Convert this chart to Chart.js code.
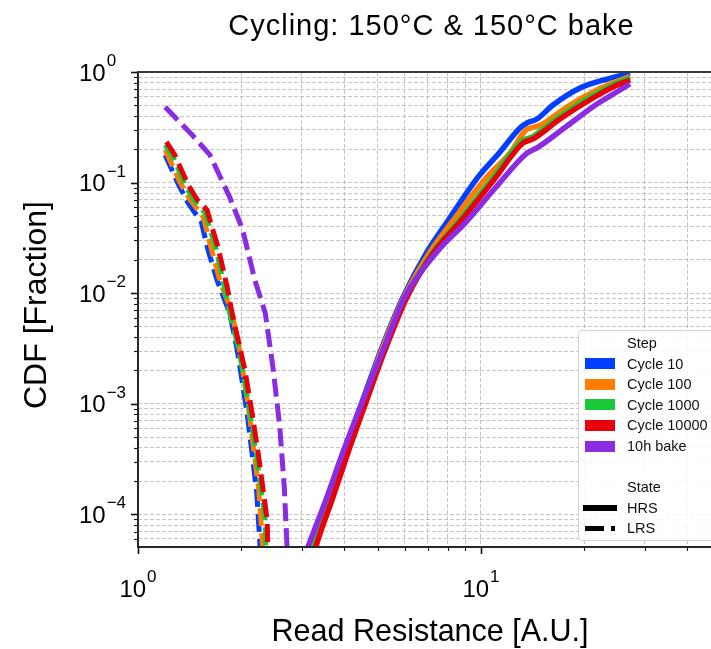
<!DOCTYPE html>
<html>
<head>
<meta charset="utf-8">
<title>Cycling CDF</title>
<script src="https://cdn.jsdelivr.net/npm/chart.js@4.4.1/dist/chart.umd.min.js"></script>
<style>
  html, body { margin: 0; padding: 0; background: #fff; }
  #wrap { position: relative; width: 711px; height: 649px; overflow: hidden; }
  #cdfChart { display: block; }
  .legend {
    position: absolute; left: 578px; top: 330px; width: 170px; height: 211px;
    box-sizing: border-box; border: 1px solid #d4d4d4; border-radius: 4px;
    background: rgba(255,255,255,0.85);
    font-family: 'Liberation Sans', Arial, sans-serif; font-size: 14.5px; color: #111;
  }
  .legend .lbl { position: absolute; left: 48px; line-height: 20px; height: 20px; white-space: nowrap; }
  .legend .patch { position: absolute; left: 6px; width: 30px; height: 11px; }
  .legend .bar { position: absolute; background: #000; }
</style>
</head>
<body>
<div id="wrap">
  <canvas id="cdfChart" width="711" height="649"></canvas>
  <div class="legend" id="legend"></div>
</div>
<script>
/* ─── Data ───────────────────────────────────────────────────── */
const steps  = ['Cycle 10', 'Cycle 100', 'Cycle 1000', 'Cycle 10000', '10h bake'];
const states = ['HRS', 'LRS'];

// HRS: read resistance [A.U.] vs CDF
const hrsR_c10      = [3.07, 3.15, 3.56, 3.99, 4.47, 5.11, 5.93, 6.96, 7.96, 9.80, 11.36, 12.99, 13.62, 14.57, 16.22, 19.44, 23.30, 27.19];
const hrsCdf_c10    = [4.0e-5, 5.07e-5, 1.35e-4, 3.66e-4, 9.75e-4, 3.06e-3, 9.24e-3, 0.0236, 0.0440, 0.112, 0.189, 0.312, 0.346, 0.376, 0.503, 0.717, 0.864, 0.975];
const hrsR_c100     = [3.09, 3.17, 3.58, 4.01, 4.50, 5.14, 5.97, 7.10, 8.23, 10.34, 12.15, 13.44, 13.99, 14.96, 17.81, 21.79, 24.59, 27.19];
const hrsCdf_c100   = [4.0e-5, 5.07e-5, 1.35e-4, 3.66e-4, 9.75e-4, 3.06e-3, 9.24e-3, 0.0236, 0.0440, 0.110, 0.185, 0.293, 0.312, 0.332, 0.483, 0.688, 0.812, 0.911];
const hrsR_c1000    = [3.19, 3.26, 3.63, 4.04, 4.53, 5.21, 6.05, 7.25, 8.57, 10.77, 13.17, 14.08, 16.88, 21.07, 24.59, 27.19];
const hrsCdf_c1000  = [4.0e-5, 5.07e-5, 1.35e-4, 3.66e-4, 9.75e-4, 3.06e-3, 9.24e-3, 0.0236, 0.0440, 0.108, 0.238, 0.258, 0.392, 0.607, 0.779, 0.883];
const hrsR_c10000   = [3.24, 3.30, 3.68, 4.10, 4.59, 5.25, 6.09, 7.30, 8.68, 10.91, 13.26, 14.18, 16.99, 21.21, 24.59, 27.19];
const hrsCdf_c10000 = [4.0e-5, 5.07e-5, 1.35e-4, 3.66e-4, 9.75e-4, 3.06e-3, 9.24e-3, 0.0236, 0.0440, 0.106, 0.228, 0.248, 0.376, 0.582, 0.747, 0.846];
const hrsR_bake     = [3.05, 3.13, 3.53, 3.96, 4.47, 5.18, 6.00, 7.44, 9.04, 11.13, 13.62, 14.57, 17.81, 21.79, 24.59, 27.19];
const hrsCdf_bake   = [4.0e-5, 5.07e-5, 1.35e-4, 3.66e-4, 9.75e-4, 3.06e-3, 9.24e-3, 0.0236, 0.0440, 0.0932, 0.185, 0.206, 0.325, 0.514, 0.646, 0.779];

// LRS
const lrsR_c10      = [1.20, 1.31, 1.40, 1.53, 1.60, 1.70, 1.85, 1.94, 2.01, 2.08, 2.15, 2.22, 2.27, 2.28];
const lrsCdf_c10    = [0.178, 0.0971, 0.0654, 0.044, 0.0246, 0.01316, 0.00662, 0.00326, 0.00164, 8.26e-4, 3.59e-4, 1.56e-4, 5.07e-5, 3.87e-5];
const lrsR_c100     = [1.20, 1.32, 1.42, 1.55, 1.63, 1.73, 1.88, 1.97, 2.04, 2.11, 2.18, 2.25, 2.31, 2.33];
const lrsCdf_c100   = [0.197, 0.1034, 0.0696, 0.0489, 0.0262, 0.01316, 0.00662, 0.00326, 0.00164, 8.26e-4, 3.59e-4, 1.66e-4, 5.07e-5, 3.87e-5];
const lrsR_c1000    = [1.20, 1.27, 1.38, 1.47, 1.57, 1.60, 1.69, 1.79, 1.85, 1.96, 2.02, 2.12, 2.21, 2.28, 2.35, 2.36, 2.38];
const lrsCdf_c1000  = [0.219, 0.167, 0.0913, 0.0668, 0.0531, 0.044, 0.0251, 0.0111, 0.00662, 0.00326, 0.00202, 8.26e-4, 3.59e-4, 1.77e-4, 8.9e-5, 5.07e-5, 3.87e-5];
const lrsR_c10000   = [1.21, 1.28, 1.40, 1.49, 1.59, 1.62, 1.71, 1.82, 1.88, 1.98, 2.05, 2.15, 2.24, 2.31, 2.38, 2.39, 2.41];
const lrsCdf_c10000 = [0.233, 0.178, 0.0951, 0.0696, 0.0565, 0.0459, 0.0262, 0.0114, 0.00662, 0.00326, 0.00202, 8.26e-4, 3.59e-4, 1.77e-4, 8.9e-5, 5.07e-5, 3.87e-5];
const lrsR_bake     = [1.20, 1.44, 1.62, 1.85, 2.02, 2.19, 2.35, 2.48, 2.59, 2.67, 2.72, 2.74];
const lrsCdf_bake   = [0.483, 0.269, 0.178, 0.0741, 0.0373, 0.0132, 0.00662, 0.00202, 6.17e-4, 1.77e-4, 5.07e-5, 3.87e-5];

// axis ranges and tick labels
const X_MIN = 1, X_MAX = 46.84;
const Y_MIN = 5.07e-5, Y_MAX = 1;
const xTickValues = [1, 10];
const xTickExps   = ['0', '1'];
const yTickValues = [1, 0.1, 0.01, 0.001, 0.0001];
const yTickExps   = ['0', '\u22121', '\u22122', '\u22123', '\u22124'];

/* ─── Styles ─────────────────────────────────────────────────── */
const STEP_COLORS = ['#023eff', '#ff7c00', '#1ac938', '#e8000b', '#8b2be2'];
const FONT = "'Liberation Sans', Arial, sans-serif";
const GRID_COLOR = 'rgba(160,160,160,0.6)';

const hrsR   = [hrsR_c10, hrsR_c100, hrsR_c1000, hrsR_c10000, hrsR_bake];
const hrsCdf = [hrsCdf_c10, hrsCdf_c100, hrsCdf_c1000, hrsCdf_c10000, hrsCdf_bake];
const lrsR   = [lrsR_c10, lrsR_c100, lrsR_c1000, lrsR_c10000, lrsR_bake];
const lrsCdf = [lrsCdf_c10, lrsCdf_c100, lrsCdf_c1000, lrsCdf_c10000, lrsCdf_bake];

function toPoints(xs, ys) {
  return xs.map((x, i) => ({ x, y: ys[i] }));
}

/* ─── Datasets ───────────────────────────────────────────────── */
const datasets = [];
steps.forEach((step, i) => {
  datasets.push({
    label: step + ' HRS',
    data: toPoints(hrsR[i], hrsCdf[i]),
    borderColor: STEP_COLORS[i],
    borderWidth: 5.5,
    pointRadius: 0,
    cubicInterpolationMode: 'monotone',
    clip: 0,
  });
  datasets.push({
    label: step + ' LRS',
    data: toPoints(lrsR[i], lrsCdf[i]),
    borderColor: STEP_COLORS[i],
    borderWidth: 5,
    borderDash: [18, 7],
    pointRadius: 0,
    clip: 0,
  });
});
// later series are drawn on top (as in the original)
datasets.forEach((d, i) => { d.order = datasets.length - i; });

function logTicks(min, max) {
  const out = [];
  for (let e = Math.floor(Math.log10(min)); e <= Math.ceil(Math.log10(max)); e++) {
    for (let m = 1; m <= 9; m++) {
      const v = parseFloat((m * Math.pow(10, e)).toPrecision(6));
      if (v >= min * 0.999999 && v <= max * 1.000001) out.push(v);
    }
  }
  return out;
}
function isMajor(v) {
  const l = Math.log10(v);
  return Math.abs(l - Math.round(l)) < 1e-9;
}

/* ─── Frame, ticks and texts ─────────────────────────────────── */
const framePlugin = {
  id: 'frame',
  afterDatasetsDraw(chart) {
    const { ctx, chartArea: ca, scales } = chart;
    const xs = scales.x, ys = scales.y;
    ctx.save();

    // ticks
    ctx.strokeStyle = '#111';
    xs.ticks.forEach(t => {
      const px = Math.round(xs.getPixelForValue(t.value)) + 0.5;
      const major = isMajor(t.value);
      ctx.lineWidth = major ? 1.6 : 1.1;
      ctx.beginPath();
      ctx.moveTo(px, ca.bottom);
      ctx.lineTo(px, ca.bottom + (major ? 7 : 4));
      ctx.stroke();
    });
    ys.ticks.forEach(t => {
      const py = Math.round(ys.getPixelForValue(t.value)) + 0.5;
      const major = isMajor(t.value);
      ctx.lineWidth = major ? 1.6 : 1.1;
      ctx.beginPath();
      ctx.moveTo(ca.left, py);
      ctx.lineTo(ca.left - (major ? 7 : 4), py);
      ctx.stroke();
    });

    // spines
    ctx.lineWidth = 2;
    ctx.strokeStyle = '#262626';
    ctx.beginPath();
    ctx.moveTo(ca.left, ca.top);
    ctx.lineTo(ca.left, ca.bottom);
    ctx.lineTo(ca.right, ca.bottom);
    ctx.stroke();
    ctx.strokeStyle = '#3a3a3a';
    ctx.beginPath();
    ctx.moveTo(ca.left - 1, ca.top);
    ctx.lineTo(ca.right, ca.top);
    ctx.stroke();

    // tick labels: 10 with raised exponent
    ctx.fillStyle = '#000';
    ctx.textBaseline = 'alphabetic';
    yTickValues.forEach((v, i) => {
      const py = ys.getPixelForValue(v);
      ctx.font = `24px ${FONT}`;
      ctx.textAlign = 'left';
      ctx.fillText('10', 79, py + 8.5);
      const w = ctx.measureText('10').width;
      ctx.font = `17px ${FONT}`;
      ctx.fillText(yTickExps[i], 79 + w + 1, py - 6);
    });
    xTickValues.forEach((v, i) => {
      const px = xs.getPixelForValue(v);
      ctx.font = `24px ${FONT}`;
      const w = ctx.measureText('10').width;
      ctx.font = `17px ${FONT}`;
      const we = ctx.measureText(xTickExps[i]).width;
      const x0 = px - (w + 1 + we) / 2;
      ctx.font = `24px ${FONT}`;
      ctx.textAlign = 'left';
      ctx.fillText('10', x0, 597);
      ctx.font = `17px ${FONT}`;
      ctx.fillText(xTickExps[i], x0 + w + 1, 582);
    });

    // title and axis titles
    ctx.textAlign = 'center';
    ctx.font = `29px ${FONT}`;
    ctx.letterSpacing = '1px';
    ctx.fillText('Cycling: 150°C & 150°C bake', 431.5, 35);
    ctx.letterSpacing = '0px';
    ctx.font = `30.5px ${FONT}`;
    ctx.fillText('Read Resistance [A.U.]', 430, 641);
    ctx.save();
    ctx.font = `32px ${FONT}`;
    ctx.translate(46, 305);
    ctx.rotate(-Math.PI / 2);
    ctx.fillText('CDF [Fraction]', 0, 0);
    ctx.restore();

    ctx.restore();
  },
};

/* ─── Chart ──────────────────────────────────────────────────── */
const chart = new Chart(document.getElementById('cdfChart'), {
  type: 'line',
  data: { datasets },
  options: {
    responsive: false,
    animation: false,
    events: [],
    layout: { padding: { top: 72, right: 0, bottom: 0, left: 0 } },
    plugins: { legend: { display: false }, tooltip: { enabled: false }, title: { display: false } },
    scales: {
      x: {
        type: 'logarithmic',
        min: X_MIN,
        max: X_MAX,
        afterBuildTicks: s => { s.ticks = logTicks(X_MIN, X_MAX).map(v => ({ value: v, major: isMajor(v) })); },
        afterFit: s => { s.height = 102; },
        ticks: { display: false },
        grid: { color: GRID_COLOR, lineWidth: 1, drawTicks: false },
        border: { display: false, dash: [4, 2] },
      },
      y: {
        type: 'logarithmic',
        min: Y_MIN,
        max: Y_MAX,
        afterBuildTicks: s => { s.ticks = logTicks(Y_MIN, Y_MAX).map(v => ({ value: v, major: isMajor(v) })); },
        afterFit: s => { s.width = 138; },
        ticks: { display: false },
        grid: { color: GRID_COLOR, lineWidth: 1, drawTicks: false },
        border: { display: false, dash: [4, 2] },
      },
    },
  },
  plugins: [framePlugin],
});

/* ─── Legend ─────────────────────────────────────────────────── */
const legend = document.getElementById('legend');
const ROW0 = 12, ROW_H = 20.6;

function addLabel(text, row) {
  const el = document.createElement('div');
  el.className = 'lbl';
  el.style.top = (ROW0 + row * ROW_H - 10) + 'px';
  el.textContent = text;
  legend.appendChild(el);
}
function addBar(row, left, width, height) {
  const el = document.createElement('div');
  el.className = 'bar';
  el.style.left = left + 'px';
  el.style.width = width + 'px';
  el.style.height = height + 'px';
  el.style.top = (ROW0 + row * ROW_H - height / 2) + 'px';
  legend.appendChild(el);
}

addLabel('Step', 0);
steps.forEach((step, i) => {
  const p = document.createElement('div');
  p.className = 'patch';
  p.style.background = STEP_COLORS[i];
  p.style.top = (ROW0 + (i + 1) * ROW_H - 5.5) + 'px';
  legend.appendChild(p);
  addLabel(step, i + 1);
});
addLabel('State', 7);
addLabel(states[0], 8);
addBar(8, 3.5, 34, 5.5);
addLabel(states[1], 9);
addBar(9, 6, 19, 5);
addBar(9, 32, 3.5, 5);
</script>
</body>
</html>
